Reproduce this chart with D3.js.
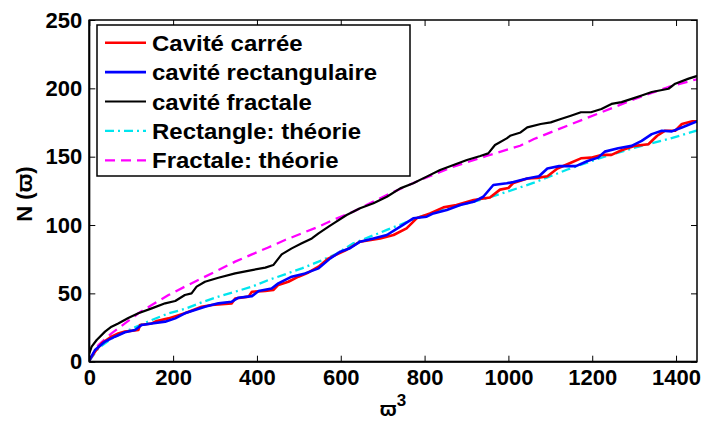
<!DOCTYPE html>
<html><head><meta charset="utf-8">
<script src="https://cdn.jsdelivr.net/npm/d3@7"></script>
<style>body{margin:0;background:#fff}svg{display:block}text{font-family:"Liberation Sans",Arial,sans-serif;font-weight:bold}</style>
</head><body><svg id="c" width="703" height="421"></svg>
<script>
const xTicks=[0,200,400,600,800,1000,1200,1400];
const yTicks=[0,50,100,150,200,250];
const seriesNames=["Cavité carrée","cavité rectangulaire","cavité fractale","Rectangle: théorie","Fractale: théorie"];
const carreeX=[0,13.6,29.5,53,69,85,117,121,149,161,189,228,268,292,340,348,380,388,420,439,451,475,499,523,547,571,587,614,646,694,726,757,781,813,845,876,917,956,980,1000,1012,1045,1069,1093,1117,1149,1173,1197,1222,1246,1270,1302,1334,1355,1374,1398,1414,1439,1455];
const carreeY=[1,7.3,13.4,18.3,20.7,22,23.2,26.8,28,29.8,31.7,35.4,40.2,41.5,42.7,46.3,47.6,51.2,51.7,52.4,56.2,58.5,62.2,65.3,69.5,75.6,78,81.9,87.8,90.2,92.7,97.6,104.9,108.5,112.9,114.6,118.3,120.2,125.9,127.1,130.8,134,134.5,135.7,141.4,145.6,148.8,149.3,151.3,151.3,154.7,157.9,159.1,165.3,169,169,173.9,175.9,175.9];
const rectX=[0,13.6,37.5,61,85,109,125,149,181,205,228,252,276,308,340,356,388,404,435,451,483,515,547,575,599,622,646,678,710,742,773,805,821,853,885,917,940,964,996,1012,1045,1073,1093,1121,1161,1189,1214,1230,1262,1294,1318,1342,1366,1390,1414,1455];
const rectY=[1,8.5,14.7,18.3,21.5,23.2,26.8,28,29.3,31.7,35.4,37.8,40.2,42.7,43.9,46.8,48,51.7,53.6,57.3,62.2,64.6,68.3,75.6,80.5,83,87.8,90.2,92.7,98.8,104.9,106.1,108.5,111,114.6,117,120.7,129.3,130.5,131.5,134,135.7,141.4,143.1,143.1,146.8,149.3,153.7,156.2,157.9,161.6,166.5,169,168.5,171.4,176.4];
const fractX=[0,5.6,17.6,37.5,53,69,93,117,149,181,205,228,244,256,276,308,348,388,420,439,459,483,507,531,547,571,583,614,646,678,710,742,773,805,837,869,901,933,952,968,996,1004,1029,1045,1077,1101,1125,1149,1173,1197,1222,1246,1270,1294,1318,1342,1382,1398,1430,1455];
const fractY=[6,11,15.9,22,25.6,28,32,35.4,39,42.7,44.4,48.8,50,54.9,58.5,61.4,64.6,67,68.8,70.7,78.5,82.9,86.6,90.2,93.9,98.8,101.2,107.3,112.2,115.9,120.7,126.8,130.5,135.4,140.3,143.9,147.6,150.5,152.4,158.5,163.4,165.3,167.7,171.4,173.9,175.1,177.6,180,182.5,182.5,184.9,188.6,189.9,192.3,194.8,197.3,199.7,203.4,207.1,209.5];
const rectThX=[0,21.6,53,93,149,189,228,268,308,348,388,427,467,507,547,587,630,710,790,869,948,1028,1061,1141,1222,1302,1382,1455];
const rectThY=[0.7,9.8,17,23,30.5,35.4,38.6,43.4,47.6,51.2,54.9,59.7,63.9,68.3,73.2,78.5,86.6,96.4,106.1,113.4,119.5,127.5,131,140.6,149.3,156.6,162.9,169.6];
const fractThX=[0,21.6,53,85,117,149,189,228,268,308,348,388,427,467,507,547,587,630,710,790,869,948,1028,1061,1141,1222,1302,1382,1455];
const fractThY=[1,12.2,20.7,28,35.4,41.5,48.8,54.9,61,67,73.2,78.5,83.6,89,93.9,98.8,104.4,109.8,122,133,142.7,150.5,158,162.9,172.7,182.5,192.3,201,207.1];

const svg=d3.select("#c");
const L=89.3,R=697,T=20,B=361.7;
const x=d3.scaleLinear().domain([0,1450]).range([L,R]);
const y=d3.scaleLinear().domain([0,250]).range([B,T]);
svg.append("defs").append("clipPath").attr("id","cp").append("rect").attr("x",L).attr("y",T).attr("width",R-L).attr("height",B-T);

const g=svg.append("g").attr("clip-path","url(#cp)");
const line=d3.line().x(d=>x(d[0])).y(d=>y(d[1]));
const zip=(a,b)=>a.map((v,i)=>[v,b[i]]);
const series=[
 {xs:rectThX,ys:rectThY,color:"#00e5ee",dash:"9,4,2,4",w:2.3},
 {xs:fractThX,ys:fractThY,color:"#ff00ff",dash:"10,6",w:2.3},
 {xs:fractX,ys:fractY,color:"#000",dash:null,w:2.2},
 {xs:carreeX,ys:carreeY,color:"#ff0000",dash:null,w:2.6},
 {xs:rectX,ys:rectY,color:"#0000ff",dash:null,w:2.6}
];
series.forEach(s=>{
 g.append("path").attr("d",line(zip(s.xs,s.ys))).attr("fill","none").attr("stroke",s.color).attr("stroke-width",s.w).attr("stroke-dasharray",s.dash).attr("stroke-linejoin","round");
});

// axes
const ax=svg.append("g");
ax.append("rect").attr("x",L).attr("y",T).attr("width",R-L).attr("height",B-T).attr("fill","none").attr("stroke","#000").attr("stroke-width",1.5);
const xb=svg.append("g").attr("transform",`translate(0,${B})`).call(d3.axisBottom(x).tickValues(xTicks).tickSize(-6).tickPadding(8).tickFormat(d3.format("d")));
const yl=svg.append("g").attr("transform",`translate(${L},0)`).call(d3.axisLeft(y).tickValues(yTicks).tickSize(-6).tickPadding(7).tickFormat(d3.format("d")));
const xt=svg.append("g").attr("transform",`translate(0,${T})`).call(d3.axisTop(x).tickValues(xTicks).tickSize(-6).tickFormat(""));
const yr=svg.append("g").attr("transform",`translate(${R},0)`).call(d3.axisRight(y).tickValues(yTicks).tickSize(-6).tickFormat(""));
[xb,yl,xt,yr].forEach(a=>{a.select(".domain").remove();a.selectAll("line").attr("stroke","#000").attr("stroke-width",1);});
[xb,yl].forEach(a=>a.selectAll("text").attr("font-size",22).attr("fill","#000").style("font-family","'Liberation Sans',Arial,sans-serif").style("font-weight","bold"));
ax.append("line").attr("x1",L).attr("x2",L).attr("y1",T).attr("y2",B).attr("stroke","#000").attr("stroke-width",2);
ax.append("line").attr("x1",L).attr("x2",R).attr("y1",B).attr("y2",B).attr("stroke","#000").attr("stroke-width",2);

// labels
svg.append("text").attr("transform","translate(32,194) rotate(-90)").attr("text-anchor","middle").attr("font-size",22).text("N (ϖ)");
const xl=svg.append("text").attr("x",393).attr("y",416).attr("text-anchor","middle").attr("font-size",20);
xl.append("tspan").text("ϖ");
xl.append("tspan").attr("dy",-10).attr("font-size",17).text("3");

// legend
const lg=svg.append("g");
lg.append("rect").attr("x",97).attr("y",25).attr("width",313).attr("height",151).attr("fill","#fff").attr("stroke","#000").attr("stroke-width",1.5);
const legOrder=[3,4,2,0,1];
seriesNames.forEach((n,i)=>{
 const s=series[legOrder[i]];
 const yy=42.7+i*29.4;
 lg.append("line").attr("x1",105).attr("x2",146).attr("y1",yy).attr("y2",yy).attr("stroke",s.color).attr("stroke-width",s.w).attr("stroke-dasharray",s.dash);
 lg.append("text").attr("transform",`translate(152,${yy+8}) scale(1.09,1)`).attr("font-size",22).text(n);
});
</script></body></html>
